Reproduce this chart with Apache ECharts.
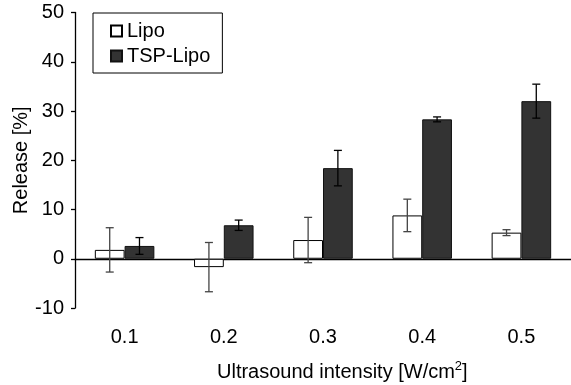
<!DOCTYPE html>
<html>
<head>
<meta charset="utf-8">
<script src="https://cdn.jsdelivr.net/npm/echarts@6/dist/echarts.min.js"></script>
<style>
html, body { margin: 0; padding: 0; background: #fff; }
#chart { width: 571px; height: 385px; }
</style>
</head>
<body>
<div id="chart"></div>
<script>
var categories = ["0.1", "0.2", "0.3", "0.4", "0.5"];
var lipo = [1.8, -1.7, 3.8, 8.8, 5.3];
var lipoErr = [4.5, 5.0, 4.6, 3.3, 0.6];
var tsp = [2.6, 6.8, 18.4, 28.3, 32.0];
var tspErr = [1.7, 1.05, 3.6, 0.5, 3.45];

var font = "Liberation Sans";

// error bars drawn next to the grouped bars (offset = 0.15 of category width)
function errorSeries(name, values, errs, side, color) {
  var data = values.map(function (v, i) { return [i, v - errs[i], v + errs[i]]; });
  return {
    type: "custom",
    name: name + "-err",
    data: data,
    z: 10,
    renderItem: function (params, api) {
      var i = api.value(0);
      var lo = api.coord([i, api.value(1)]);
      var hi = api.coord([i, api.value(2)]);
      var w = api.size([1, 0])[0];
      var x = lo[0] + side * 0.15 * w;
      var cap = 4;
      var st = { stroke: color, lineWidth: 1.3 };
      return {
        type: "group",
        children: [
          { type: "line", shape: { x1: x, y1: lo[1], x2: x, y2: hi[1] }, style: st },
          { type: "line", shape: { x1: x - cap, y1: lo[1], x2: x + cap, y2: lo[1] }, style: st },
          { type: "line", shape: { x1: x - cap, y1: hi[1], x2: x + cap, y2: hi[1] }, style: st }
        ]
      };
    }
  };
}

var chart = echarts.init(document.getElementById("chart"));
chart.setOption({
  animation: false,
  textStyle: { fontFamily: font },
  title: {
    left: 212,
    top: 355,
    text: "Ultrasound intensity [W/cm{sup|2}]",
    textStyle: {
      fontFamily: font,
      fontSize: 20,
      fontWeight: "normal",
      color: "#000",
      rich: {
        sup: { fontSize: 13, verticalAlign: "top", padding: [0, 0, 11, 0], color: "#000", fontFamily: font }
      }
    }
  },
  legend: {
    left: 93,
    top: 13,
    orient: "vertical",
    data: ["Lipo", "TSP-Lipo"],
    itemWidth: 11,
    itemHeight: 11,
    itemGap: 5,
    icon: "rect",
    borderColor: "#000",
    borderWidth: 1,
    borderRadius: 0,
    padding: [8, 12, 7, 17],
    textStyle: { fontFamily: font, fontSize: 20, color: "#000" }
  },
  grid: { left: 75, right: 0, top: 12.5, bottom: 77, outerBoundsMode: "none" },
  xAxis: {
    type: "category",
    data: categories,
    axisLine: { onZero: true, lineStyle: { color: "#000", width: 1.3 } },
    axisTick: { inside: true, length: 7, lineStyle: { color: "#000", width: 1.3 } },
    axisLabel: { margin: 19, fontSize: 20, color: "#000", fontFamily: font },
    splitLine: { show: false }
  },
  yAxis: {
    type: "value",
    min: -10,
    max: 50,
    interval: 10,
    name: "Release [%]",
    nameLocation: "middle",
    nameRotate: 90,
    nameGap: 44,
    nameMoveOverlap: false,
    nameTextStyle: { fontSize: 20, color: "#000", fontFamily: font },
    axisLine: { show: true, lineStyle: { color: "#000", width: 1.3 } },
    axisTick: { show: true, length: 4, lineStyle: { color: "#000", width: 1.3 } },
    axisLabel: { margin: 11, fontSize: 20, color: "#000", fontFamily: font },
    splitLine: { show: false }
  },
  series: [
    {
      name: "Lipo",
      type: "bar",
      data: lipo,
      barGap: "0%",
      barCategoryGap: "40%",
      itemStyle: { color: "#fff", borderColor: "#000", borderWidth: 1 }
    },
    {
      name: "TSP-Lipo",
      type: "bar",
      data: tsp,
      itemStyle: { color: "#333", borderColor: "#111", borderWidth: 1 }
    },
    errorSeries("Lipo", lipo, lipoErr, -1, "#444"),
    errorSeries("TSP-Lipo", tsp, tspErr, 1, "#000")
  ]
});
</script>
</body>
</html>
